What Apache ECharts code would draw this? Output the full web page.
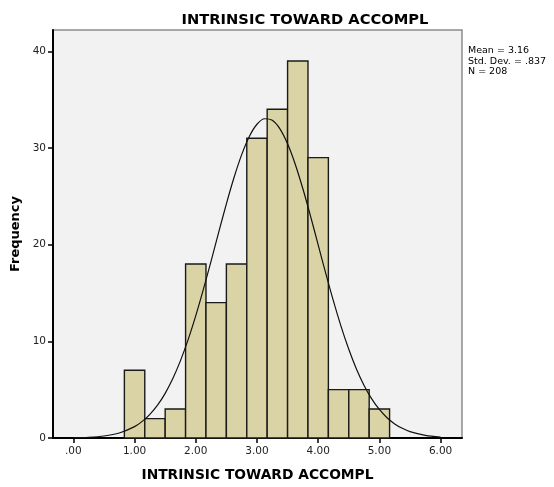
<!DOCTYPE html>
<html><head><meta charset="utf-8">
<script src="https://cdn.jsdelivr.net/npm/echarts@6/dist/echarts.min.js"></script>
<style>html,body{margin:0;padding:0;background:#fff}#c{width:554px;height:487px}</style>
</head><body><div id="c"></div>
<script>
var binCenters = [1.0, 1.3333, 1.6667, 2.0, 2.3333, 2.6667, 3.0, 3.3333, 3.6667, 4.0, 4.3333, 4.6667, 5.0];
var binCounts  = [7, 2, 3, 18, 14, 18, 31, 34, 39, 29, 5, 5, 3];
var binWidth = 1/3;
var curveX = [0,0.25,0.5,0.75,1.0,1.125,1.25,1.375,1.5,1.625,1.75,1.875,2.0,2.125,2.25,2.375,2.5,2.625,2.75,2.875,3.0,3.125,3.25,3.375,3.5,3.625,3.75,3.875,4.0,4.125,4.25,4.375,4.5,4.625,4.75,4.875,5.0,5.125,5.25,5.375,5.5,5.75,6.0];
var curveY = [0.03,0.08,0.21,0.52,1.18,1.72,2.45,3.40,4.62,6.15,8.00,10.17,12.65,15.39,18.30,21.29,24.22,26.94,29.31,31.19,32.45,33.02,32.86,31.98,30.43,28.32,25.78,22.95,19.97,17.00,14.15,11.52,9.18,7.14,5.44,4.05,2.95,2.10,1.46,1.00,0.66,0.28,0.10];
var xTicks = [0,1,2,3,4,5,6];
var xTickLabels = ['.00','1.00','2.00','3.00','4.00','5.00','6.00'];
var yTicks = [0,10,20,30,40];
var statLines = ['Mean = 3.16','Std. Dev. = .837','N = 208'];
var titleText = 'INTRINSIC TOWARD ACCOMPL';

var chart = echarts.init(document.getElementById('c'), null, {renderer:'canvas'});
var FONT = 'DejaVu Sans';
var barData = binCenters.map(function(c,i){ return [c - binWidth/2, c + binWidth/2, binCounts[i]]; });
var curveData = curveX.map(function(x,i){ return [x, curveY[i]]; });

chart.setOption({
  backgroundColor:'#ffffff',
  animation:false,
  title:{ text:titleText, left:300, top:8, textAlign:'center',
    textStyle:{fontFamily:FONT, fontWeight:'bold', fontSize:14.7, color:'#000'} },
  grid:{ left:53, top:30, right:92, bottom:48, show:true, backgroundColor:'#f2f2f2', borderColor:'#8c8c8c', borderWidth:1.5 },
  xAxis:{ type:'value', min:-0.333, max:6.35,
    name:'INTRINSIC TOWARD ACCOMPL', nameLocation:'middle', nameGap:30,
    nameTextStyle:{fontFamily:FONT, fontWeight:'bold', fontSize:13.8, color:'#000'},
    axisLine:{show:true, onZero:false, lineStyle:{color:'#000', width:2}},
    axisTick:{show:true, length:5, customValues:xTicks, lineStyle:{color:'#000', width:1.5}},
    axisLabel:{customValues:xTicks, margin:8, fontFamily:FONT, fontSize:10.5, color:'#222',
      formatter:function(v){ var i = xTicks.indexOf(Math.round(v)); return i>=0 ? xTickLabels[i] : ''; }},
    splitLine:{show:false} },
  yAxis:{ type:'value', min:0, max:42.2,
    name:'Frequency', nameLocation:'middle', nameGap:29, nameRotate:90,
    nameTextStyle:{fontFamily:FONT, fontWeight:'bold', fontSize:13, color:'#000'},
    axisLine:{show:true, onZero:false, lineStyle:{color:'#000', width:2}},
    axisTick:{show:true, length:5, customValues:yTicks, lineStyle:{color:'#000', width:1.5}},
    axisLabel:{customValues:yTicks, margin:7, fontFamily:FONT, fontSize:10.5, color:'#222'},
    splitLine:{show:false} },
  graphic: statLines.map(function(t,i){
    return {type:'text', left:468, top:46+i*10.5, style:{text:t, fontFamily:FONT, fontSize:9.5, fill:'#000'}};
  }),
  series:[
    { type:'custom', data:barData, encode:{x:[0,1], y:2},
      renderItem:function(params, api){
        var p0 = api.coord([api.value(0), api.value(2)]);
        var p1 = api.coord([api.value(1), 0]);
        return {type:'rect', shape:{x:p0[0], y:p0[1], width:p1[0]-p0[0], height:p1[1]-p0[1]},
          style:{fill:'#d9d3a6', stroke:'#1a1a1a', lineWidth:1.4}};
      }, z:2 },
    { type:'line', data:curveData, smooth:0.3, showSymbol:false, symbol:'none',
      lineStyle:{color:'#111', width:1.2}, z:3 }
  ]
});
</script></body></html>
